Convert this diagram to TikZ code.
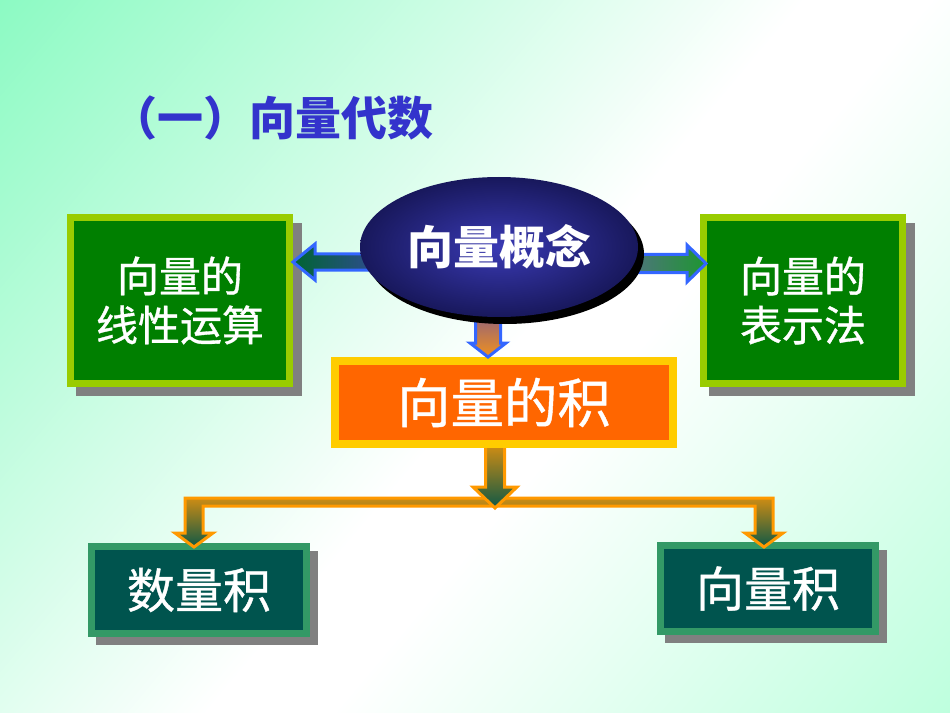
\documentclass[tikz,border=0pt]{standalone}
\usepackage{fontspec}
\newfontfamily\cjk{Noto Sans CJK SC}
\newfontfamily\cjkm[FakeBold=0.8]{Noto Sans CJK SC}
\usetikzlibrary{shapes.geometric,shadows}
\definecolor{bgT}{RGB}{140,250,195}
\definecolor{bgB}{RGB}{190,255,222}
\definecolor{yg}{HTML}{99CC00}
\definecolor{dg}{HTML}{007F00}
\definecolor{oy}{HTML}{FFCC00}
\definecolor{orf}{HTML}{FF6600}
\definecolor{tb}{HTML}{339966}
\definecolor{tf}{RGB}{0,84,78}
\definecolor{shd}{HTML}{808080}
\definecolor{ttl}{HTML}{3333CC}
\definecolor{eIn}{RGB}{58,58,180}
\definecolor{eOut}{RGB}{24,24,92}
\definecolor{bline}{HTML}{3366FF}
\definecolor{oline}{HTML}{FF9900}
\definecolor{agreen}{RGB}{0,100,50}
\definecolor{ablue}{RGB}{60,70,170}
\definecolor{agray}{RGB}{95,105,150}
\definecolor{agreen2}{RGB}{30,150,50}
\definecolor{apurp}{RGB}{110,80,160}
\definecolor{aorange}{RGB}{240,145,30}
\definecolor{cgold}{RGB}{205,140,20}
\definecolor{cteal}{RGB}{14,88,70}
\pgfdeclareverticalshading{bgsh}{100bp}{color(0bp)=(bgB); color(25bp)=(bgB); color(45bp)=(white); color(49bp)=(white); color(75bp)=(bgT); color(100bp)=(bgT)}
\begin{document}
\begin{tikzpicture}[x=0.75pt,y=-0.75pt,
  box/.style={draw, line width=5.25pt, inner sep=0pt, text=white, align=center},
  bluearrow/.style={draw=bline, line width=2.25pt, line join=miter},
  orangearrow/.style={draw=oline, line width=2.25pt, line join=miter},
  shadowbox/.style={fill=shd}
]
\useasboundingbox (0,0) rectangle (950,713);
\begin{scope}[transform canvas={rotate around={50:(475,356.5)}}]
  \shade[shading=bgsh] (-125,-236.5) rectangle (1075,949.5);
\end{scope}

% title
\node[font=\cjk\bfseries\fontsize{34.5pt}{40pt}\selectfont, text=ttl] (T) at (272,118) {（一）向量代数};

% side boxes
\fill[shadowbox] (76,223) rectangle (302,396);
\node[box, draw=yg, fill=dg, minimum width=219*0.75pt, minimum height=166*0.75pt,
      font=\cjkm\fontsize{31.5pt}{36.75pt}\selectfont] (L) at (180,300.5) {向量的\\线性运算};
\fill[shadowbox] (709,223) rectangle (915,396);
\node[box, draw=yg, fill=dg, minimum width=199*0.75pt, minimum height=166*0.75pt,
      font=\cjkm\fontsize{31.5pt}{36.75pt}\selectfont] (R) at (803,300.5) {向量的\\表示法};

% bottom boxes
\fill[shadowbox] (96,551) rectangle (318,645);
\node[box, draw=tb, fill=tf, minimum width=215*0.75pt, minimum height=87*0.75pt,
      font=\cjkm\fontsize{36pt}{40pt}\selectfont] (B1) at (199,590) {数量积};
\fill[shadowbox] (665,550) rectangle (887,643);
\node[box, draw=tb, fill=tf, minimum width=215*0.75pt, minimum height=86*0.75pt,
      font=\cjkm\fontsize{36pt}{40pt}\selectfont] (B2) at (768,588.5) {向量积};

% elbow connector to the two bottom boxes
\coordinate (t1) at (194,547);
\coordinate (t2) at (764,547);
\draw[orangearrow, top color=cgold, bottom color=cteal]
  (t1) -- ++(-19,-14) -- ++(10,0) -- (185,498) -- (773,498) -- (773,533) -- (783,533)
  -- (t2) -- (745,533) -- (755,533) -- (755,506) -- (203,506) -- (203,533) -- (213,533) -- cycle;

% central down arrow from the orange box
\coordinate (tc) at (495,508);
\draw[orangearrow, top color=cgold, bottom color=cteal]
  (tc) -- ++(-22,-21) -- ++(12.5,0) -- ++(0,-41) -- ++(19,0) -- ++(0,41) -- ++(12.5,0) -- cycle;

% orange box
\node[box, draw=oy, line width=6pt, fill=orf, minimum width=338*0.75pt, minimum height=83*0.75pt,
      font=\cjkm\fontsize{40pt}{44pt}\selectfont] (O) at (504,402.5) {向量的积};

% arrows from the ellipse
\coordinate (lt) at (L.east |- 0,262);
\draw[bluearrow, left color=agreen, right color=ablue]
  (lt) -- ++(22,-18) -- ++(0,10) -- ++(84,0) -- ++(0,16) -- ++(-84,0) -- ++(0,10) -- cycle;
\coordinate (rt) at (706,263.5);
\draw[bluearrow, left color=agray, right color=agreen2]
  (rt) -- ++(-19,-18.5) -- ++(0,9.5) -- ++(-80,0) -- ++(0,18) -- ++(80,0) -- ++(0,9.5) -- cycle;
\coordinate (dt) at (O.north -| 488,0);
\draw[bluearrow, top color=apurp, bottom color=aorange]
  (dt) -- ++(-18,-14) -- ++(5.5,0) -- ++(0,-45) -- ++(25,0) -- ++(0,45) -- ++(5.5,0) -- cycle;

% ellipse
\node[ellipse, minimum width=278*0.75pt, minimum height=140*0.75pt, inner sep=0pt,
      shading=radial, inner color=eIn, outer color=eOut,
      drop shadow={shadow xshift=4.5pt, shadow yshift=-5.25pt, opacity=1, fill=black},
      text=white, font=\cjk\bfseries\fontsize{34.5pt}{40pt}\selectfont] (E) at (499,247) {向量概念};
\end{tikzpicture}
\end{document}
